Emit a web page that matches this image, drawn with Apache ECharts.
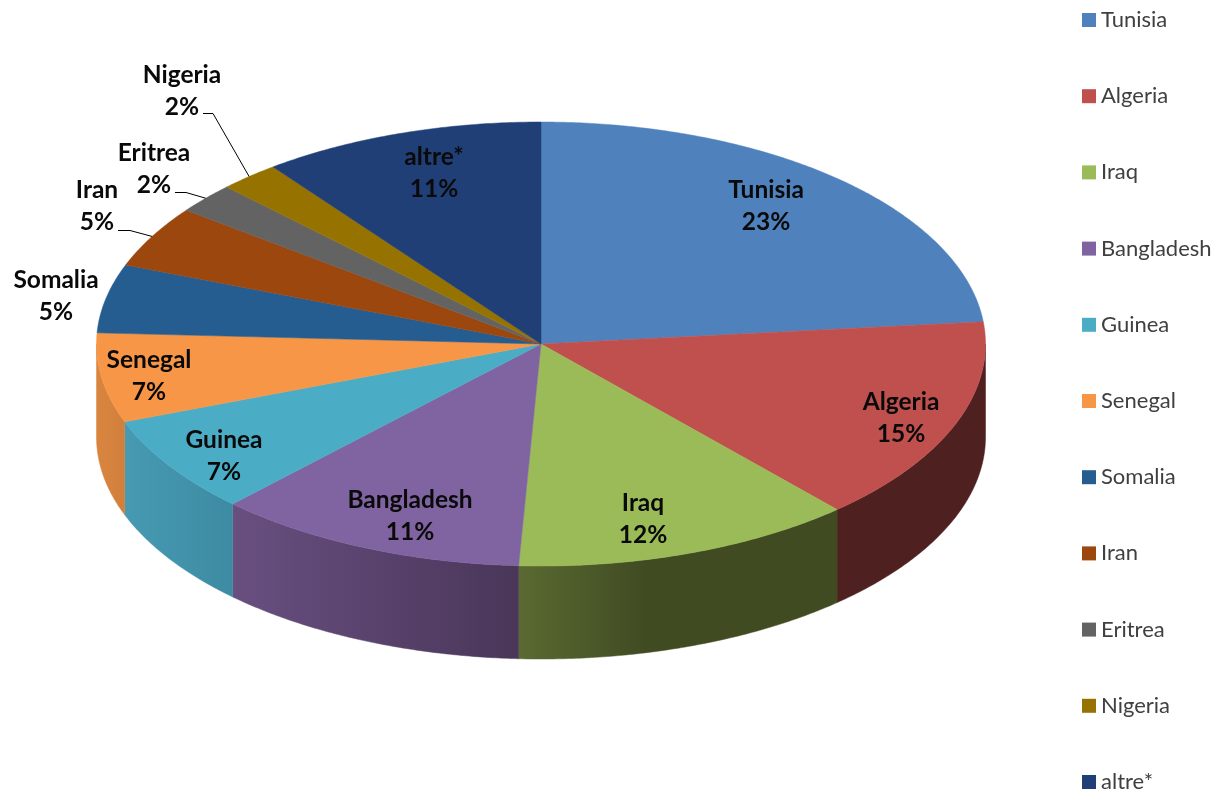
<!DOCTYPE html>
<html>
<head>
<meta charset="utf-8">
<title>Pie</title>
<style>
    html, body { margin: 0; padding: 0; background: #fff; }
    #chart { width: 1221px; height: 795px; }
</style>
<script src="https://cdn.jsdelivr.net/npm/echarts@6/dist/echarts.min.js"></script>
</head>
<body>
<div id="chart"></div>
<script>
const countries = ['Tunisia', 'Algeria', 'Iraq', 'Bangladesh', 'Guinea', 'Senegal', 'Somalia', 'Iran', 'Eritrea', 'Nigeria', 'altre*'];
// slice sizes
const shares = [23.4, 15.0, 12.4, 11.4, 7.1, 6.5, 5.0, 4.5, 2.2, 2.2, 10.3];
// percentages as printed on the labels
const printed = ['23%', '15%', '12%', '11%', '7%', '7%', '5%', '5%', '2%', '2%', '11%'];
const topColors = ['#4f81bd', '#c0504d', '#9bbb59', '#8064a2', '#4bacc6', '#f79646', '#255d91', '#9b470e', '#636363', '#967300', '#213f77'];
// gradient of the wall, left to right
const sideColors = {
    Algeria: ['#4f2020', '#4f2020'],
    Iraq: ['#5a6a31', '#404b22'],
    Bangladesh: ['#684f80', '#4a3659'],
    Guinea: ['#469ab2', '#3d8ba3'],
    Senegal: ['#d98540', '#d0803c']
};

// pie geometry
const cx = 541, cy = 344, rx = 444.5, ry = 222, depth = 93;

// label centres, [x, y]
const labelAt = [[766, 206], [901, 418], [643, 519], [410, 516], [224, 456], [149, 376], [56, 296], [97, 206], [154, 169], [182, 91], [434, 173]];
// leader start and elbow for the small outside slices
const leaders = { Iran: [[118, 230.5], [130, 230.5]], Eritrea: [[175, 192.5], [186, 192.5]], Nigeria: [[203, 113.5], [213, 113.5]] };

const total = shares.reduce((a, b) => a + b, 0);

function rim(deg, dy) {
    const a = deg * Math.PI / 180;
    return [cx + rx * Math.sin(a), cy - ry * Math.cos(a) + (dy || 0)];
}

function arc(from, to, dy) {
    const pts = [];
    const n = Math.max(2, Math.ceil((to - from) * 2));
    for (let i = 0; i <= n; i++) {
        pts.push(rim(from + (to - from) * i / n, dy));
    }
    return pts;
}

function renderSlice(params, api) {
    const i = params.seriesIndex;
    const from = api.value(0), to = api.value(1);
    const name = countries[i];
    const children = [];

    // wall, only the front half of the pie has one
    const f = Math.max(from, 90), t = Math.min(to, 270);
    if (t > f) {
        const c = sideColors[name];
        const fill = new echarts.graphic.LinearGradient(0, 0, 1, 0, name === 'Iraq'
            ? [{ offset: 0, color: c[0] }, { offset: 0.4, color: c[1] }, { offset: 1, color: c[1] }]
            : [{ offset: 0, color: c[0] }, { offset: 1, color: c[1] }]);
        children.push({
            type: 'polygon',
            shape: { points: arc(f, t, 0).concat(arc(f, t, depth).reverse()) },
            style: { fill: fill, stroke: fill, lineWidth: 0.5 }
        });
    }

    // top
    children.push({
        type: 'polygon',
        z2: 2,
        shape: { points: [[cx, cy]].concat(arc(from, to, 0)) },
        style: { fill: topColors[i], stroke: topColors[i], lineWidth: 0.5 }
    });

    // leader line
    if (leaders[name]) {
        children.push({
            type: 'polyline',
            z2: 5,
            shape: { points: leaders[name].concat([rim((from + to) / 2, 0)]) },
            style: { fill: null, stroke: '#000', lineWidth: 1 }
        });
    }

    // label
    children.push({
        type: 'text',
        z2: 10,
        x: labelAt[i][0],
        y: labelAt[i][1],
        style: {
            text: name + '\n' + printed[i],
            font: 'bold 24.5px Lato',
            lineHeight: 32,
            fill: '#0a0a0a',
            align: 'center',
            verticalAlign: 'middle'
        }
    });
    return { type: 'group', children: children };
}

let acc = 0;
const series = countries.map(function (name, i) {
    const from = acc / total * 360;
    acc += shares[i];
    return {
        type: 'custom',
        name: name,
        coordinateSystem: 'none',
        animation: false,
        silent: true,
        clip: false,
        itemStyle: { color: topColors[i] },
        renderItem: renderSlice,
        data: [[from, acc / total * 360, shares[i]]]
    };
});

const chart = echarts.init(document.getElementById('chart'), null, { renderer: 'canvas' });
chart.setOption({
    backgroundColor: '#fff',
    animation: false,
    legend: {
        data: countries,
        orient: 'vertical',
        left: 1082,
        top: 9,
        padding: 0,
        icon: 'rect',
        itemWidth: 14,
        itemHeight: 14,
        itemGap: 54.2,
        selectedMode: false,
        textStyle: { color: '#404040', fontFamily: 'Lato', fontSize: 22, lineHeight: 22 }
    },
    series: series
});
</script>
</body>
</html>
